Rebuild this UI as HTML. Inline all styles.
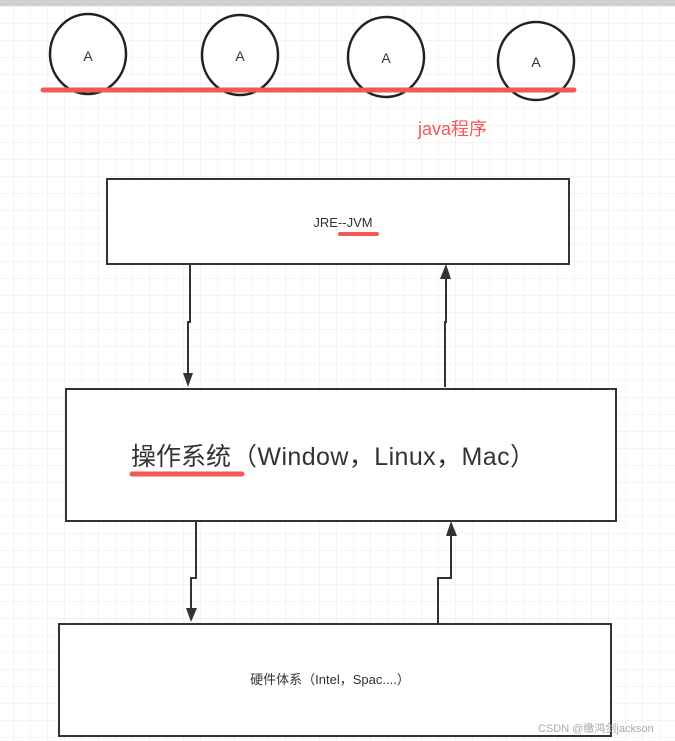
<!DOCTYPE html>
<html><head><meta charset="utf-8"><style>
html,body{margin:0;padding:0;background:#fff;}
svg{display:block;}
text{font-family:"Liberation Sans","Noto Sans CJK SC",sans-serif;}
</style></head><body>
<svg width="675" height="741" viewBox="0 0 675 741" xmlns="http://www.w3.org/2000/svg">
<defs>
<pattern id="g" x="13" y="6" width="17" height="17" patternUnits="userSpaceOnUse">
<path d="M0 0H17M0 0V17" stroke="#e8e8e8" stroke-width="1" fill="none"/>
</pattern>
</defs>
<rect width="675" height="741" fill="url(#g)"/>
<rect width="675" height="6" fill="#cfcfcf"/>
<g fill="#fff" stroke="#222" stroke-width="2.5">
<ellipse cx="88" cy="54" rx="38" ry="40"/>
<ellipse cx="240" cy="55" rx="38" ry="40"/>
<ellipse cx="386" cy="57" rx="38" ry="40"/>
<ellipse cx="536" cy="61" rx="38" ry="39"/>
</g>
<g font-size="14" fill="#333" text-anchor="middle">
<text x="88" y="61">A</text><text x="240" y="61">A</text><text x="386" y="63">A</text><text x="536" y="67">A</text>
</g>
<line x1="43" y1="90" x2="574" y2="90" stroke="#f55656" stroke-width="5" stroke-linecap="round"/>
<text x="418" y="135" font-size="18" fill="#f55656">java程序</text>
<g fill="#fff" stroke="#333" stroke-width="2">
<rect x="107" y="179" width="462" height="85"/>
<rect x="66" y="389" width="550" height="132"/>
<rect x="59" y="624" width="552" height="112"/>
</g>
<text x="343" y="227" font-size="13" fill="#333" text-anchor="middle">JRE--JVM</text>
<line x1="340" y1="234" x2="377" y2="234" stroke="#f55656" stroke-width="4" stroke-linecap="round"/>
<text x="131" y="465" font-size="25" fill="#333">操作系统</text>
<text x="232" y="465" font-size="25" fill="#333" textLength="303" lengthAdjust="spacing">（Window，Linux，Mac）</text>
<line x1="132" y1="474" x2="242" y2="474" stroke="#f55656" stroke-width="5" stroke-linecap="round"/>
<text x="330" y="684" font-size="13" fill="#333" text-anchor="middle">硬件体系（Intel，Spac....）</text>
<g stroke="#333" stroke-width="2" fill="none">
<path d="M190 264V322H188V376"/>
<path d="M445 387V322H446V276"/>
<path d="M196 521V578H191V610"/>
<path d="M438 624V578H451V534"/>
</g>
<g fill="#333">
<polygon points="183,373 193,373 188,387"/>
<polygon points="440,279 451,279 446,264"/>
<polygon points="186,608 197,608 191,622"/>
<polygon points="446,536 457,536 451,521"/>
</g>
<text x="538" y="732" font-size="11" fill="#aaa">CSDN @缴鸿剑jackson</text>
</svg>
</body></html>
